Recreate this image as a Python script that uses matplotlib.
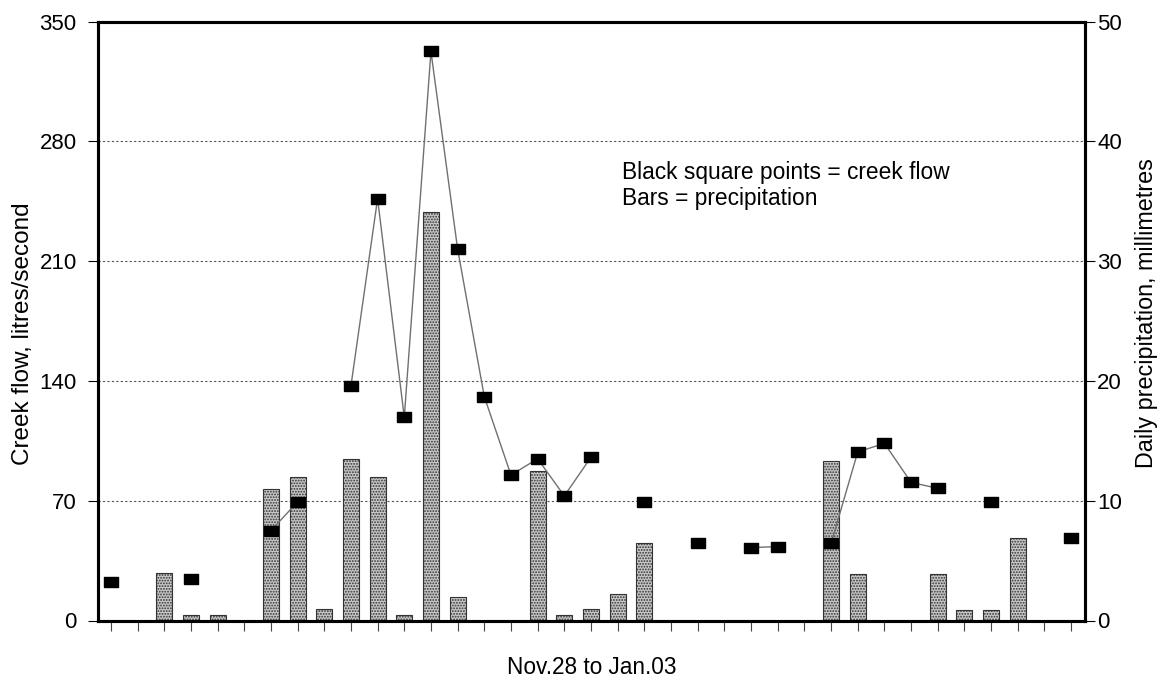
import numpy as np
import matplotlib
matplotlib.use("Agg")
import matplotlib.pyplot as plt

# ---- data ----
days = list(range(37))  # Nov.28 .. Jan.03
nan = np.nan
creek_flow = [22.5, nan, nan, 24.3, nan, nan, 52.5, 69.3, nan, 137, 246.5, 118.7,
              332.5, 217, 130.8, 85, 94.5, 72.8, 95.4, nan, 69.5, nan, 45, nan,
              42.6, 43.2, nan, 45, 98.5, 103.5, 80.7, 77.2, nan, 69.5, nan, nan, 48]
precip = [0, 0, 4.0, 0.5, 0.5, 0, 11.0, 12.0, 1.0, 13.5, 11.95, 0.5,
          34.1, 2.0, 0, 0, 12.5, 0.5, 1.0, 2.2, 6.5, 0, 0, 0,
          0, 0, 0, 13.3, 3.9, 0, 0, 3.9, 0.9, 0.9, 6.9, 0, 0]
left_ticks = [0, 70, 140, 210, 280, 350]
right_ticks = [0, 10, 20, 30, 40, 50]

plt.rcParams['font.family'] = ['Liberation Sans', 'DejaVu Sans']
plt.rcParams['hatch.color'] = '#3c3c3c'
plt.rcParams['hatch.linewidth'] = 0.9

fig = plt.figure(figsize=(11.62, 6.81), dpi=100)
W, H = 1162, 681
ax1 = fig.add_axes([97.5 / W, 1 - 620.5 / H, 987 / W, 599 / H])
ax2 = ax1.twinx()

# precipitation bars (right axis)
ax2.bar(days, precip, width=0.6, color='#c8c8c8', edgecolor='#333333',
        linewidth=0.8, hatch='......', zorder=2)
ax2.set_ylim(0, 50)
ax2.set_yticks(right_ticks)
ax2.grid(axis='y', color='#555555', linestyle=(0, (2, 2)), linewidth=0.8)
ax2.set_axisbelow(True)

# creek flow (left axis), on top
ax1.set_zorder(ax2.get_zorder() + 1)
ax1.patch.set_visible(False)
rect = [(-1, -0.62), (1, -0.62), (1, 0.62), (-1, 0.62), (-1, -0.62)]
ax1.plot(days, creek_flow, color='#707070', linewidth=1.0,
         marker=rect, markersize=10.5, markerfacecolor='black',
         markeredgecolor='black', zorder=3)
ax1.set_ylim(0, 350)
ax1.set_yticks(left_ticks)
ax1.set_xlim(-0.5, 36.5)
ax1.set_xticks(days)
ax1.set_xticklabels([])

for ax in (ax1, ax2):
    for s in ax.spines.values():
        s.set_linewidth(2.2)
        s.set_color('black')

ax1.tick_params(axis='y', direction='out', length=7, width=0.8, labelsize=16, pad=8)
ax2.tick_params(axis='y', direction='out', length=7, width=0.8, labelsize=16, pad=2)
ax1.tick_params(axis='x', direction='out', length=7, width=0.8, color='#444444')

fig.text(23 / W, 1 - 334 / H, 'Creek flow, litres/second', rotation=90,
         ha='center', va='center', fontsize=17.5)
fig.text(1147 / W, 1 - 313 / H, 'Daily precipitation, millimetres', rotation=90,
         ha='center', va='center', fontsize=16.8)
fig.text(592 / W, 1 - 668 / H, 'Nov.28 to Jan.03', ha='center', va='center',
         fontsize=16.3)
fig.text(621.7 / W, 1 - 172 / H, 'Black square points = creek flow',
         ha='left', va='center', fontsize=16.4)
fig.text(621.7 / W, 1 - 198 / H, 'Bars = precipitation',
         ha='left', va='center', fontsize=16.4)

fig.savefig('out.png', dpi=100)
